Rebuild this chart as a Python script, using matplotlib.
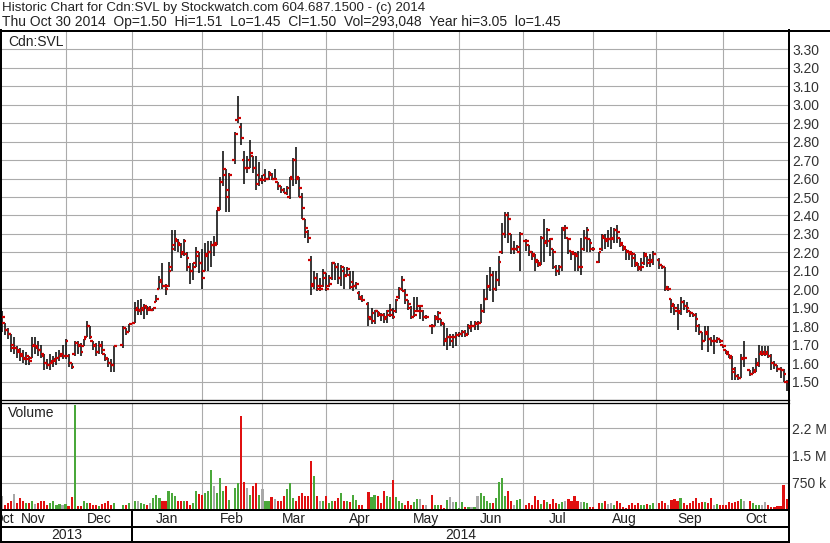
import matplotlib
matplotlib.use("Agg")
import matplotlib.pyplot as plt
from matplotlib.lines import Line2D
from matplotlib.transforms import blended_transform_factory
import numpy as np
import pandas as pd

plt.rcParams['font.family'] = ['Liberation Sans', 'DejaVu Sans']

# %% Data (daily bars, Nov 2013 - Oct 2014), one line per month

opens = [
    1.82,1.82,1.78,1.76,1.70,1.68,1.67,1.64,1.63,1.62,1.63,1.70,1.68,1.67,1.64,1.60,1.59,1.61,1.62,1.63,1.65,
    1.64,1.64,1.60,1.65,1.71,1.70,1.69,1.74,1.80,1.72,1.70,1.66,1.70,1.65,1.62,1.60,1.59,1.70,1.79,1.77,
    1.82,1.90,1.88,1.89,1.90,1.90,1.89,1.93,2.00,2.05,2.02,2.02,2.12,2.24,2.26,2.24,2.20,2.19,2.12,2.10,2.14,2.18,
    2.14,2.10,2.18,2.20,2.24,2.25,2.44,2.58,2.62,2.50,2.70,2.92,2.88,2.70,2.66,2.70,2.72,2.66,2.62,
    2.60,2.62,2.60,2.62,2.60,2.58,2.56,2.54,2.52,2.50,2.60,2.70,2.60,2.50,2.38,2.31,2.16,2.02,2.06,2.02,2.02,
    2.06,2.02,2.06,2.14,2.12,2.06,2.10,2.08,2.08,2.04,2.02,1.98,1.95,1.92,1.84,1.83,1.88,1.86,1.86,1.85,1.86,
    1.86,1.88,1.96,2.00,1.99,1.94,1.90,1.85,1.88,1.88,1.88,1.85,1.80,1.80,1.84,1.84,1.81,1.73,1.74,1.72,1.74,
    1.75,1.76,1.77,1.76,1.79,1.80,1.81,1.82,1.88,1.95,2.02,2.08,2.00,2.05,2.20,2.30,2.40,2.30,2.22,2.22,2.20,
    2.26,2.24,2.20,2.18,2.15,2.14,2.28,2.26,2.26,2.22,2.12,2.10,2.12,2.32,2.28,2.21,2.19,2.18,2.12,2.22,2.28,2.27,
    2.22,2.15,2.22,2.28,2.26,2.27,2.28,2.32,2.28,2.24,2.22,2.20,2.19,2.17,2.13,2.12,2.14,2.18,2.16,2.16,
    2.16,2.13,2.12,2.01,1.95,1.92,1.88,1.88,1.93,1.91,1.88,1.87,1.86,1.80,1.77,1.72,1.76,1.73,1.72,1.72,1.73,
    1.70,1.67,1.65,1.63,1.55,1.53,1.52,1.62,1.56,1.54,1.56,1.60,1.66,1.66,1.66,1.64,1.60,1.59,1.57,1.56,1.50,
]
highs = [
    1.88,1.82,1.79,1.76,1.74,1.69,1.68,1.67,1.66,1.64,1.74,1.74,1.72,1.70,1.65,1.62,1.65,1.64,1.66,1.67,1.70,
    1.73,1.65,1.60,1.72,1.72,1.71,1.73,1.83,1.80,1.72,1.71,1.72,1.72,1.65,1.63,1.62,1.69,1.80,1.79,1.81,
    1.93,1.94,1.95,1.92,1.91,1.91,1.90,1.97,2.07,2.14,2.03,2.15,2.32,2.32,2.27,2.25,2.27,2.20,2.14,2.14,2.23,2.20,
    2.22,2.25,2.26,2.26,2.29,2.43,2.61,2.75,2.65,2.63,2.85,3.05,2.90,2.75,2.72,2.81,2.72,2.72,2.69,
    2.62,2.65,2.64,2.63,2.65,2.58,2.56,2.55,2.56,2.61,2.71,2.77,2.61,2.52,2.38,2.32,2.18,2.10,2.09,2.06,2.11,
    2.09,2.08,2.15,2.14,2.14,2.13,2.12,2.12,2.10,2.10,2.04,1.99,1.97,1.93,1.90,1.89,1.88,1.87,1.87,1.89,1.92,
    1.90,1.95,2.01,2.07,2.00,1.94,1.91,1.96,1.96,1.91,1.89,1.86,1.81,1.86,1.88,1.84,1.82,1.79,1.76,1.76,1.77,
    1.77,1.78,1.78,1.81,1.83,1.83,1.83,1.92,2.00,2.08,2.12,2.10,2.10,2.18,2.36,2.42,2.42,2.30,2.26,2.24,2.31,
    2.27,2.24,2.21,2.19,2.16,2.29,2.38,2.33,2.28,2.22,2.13,2.13,2.34,2.35,2.28,2.21,2.20,2.21,2.28,2.32,2.34,2.27,
    2.23,2.20,2.30,2.30,2.32,2.34,2.33,2.35,2.28,2.24,2.22,2.21,2.20,2.19,2.14,2.17,2.20,2.18,2.19,2.21,
    2.17,2.13,2.12,2.02,1.95,1.92,1.92,1.96,1.94,1.93,1.88,1.87,1.87,1.81,1.77,1.80,1.80,1.74,1.75,1.74,1.73,
    1.70,1.67,1.65,1.64,1.58,1.54,1.65,1.72,1.56,1.58,1.63,1.70,1.69,1.69,1.69,1.65,1.61,1.59,1.58,1.57,1.51,
]
lows = [
    1.77,1.75,1.73,1.66,1.65,1.63,1.61,1.60,1.59,1.59,1.63,1.65,1.64,1.63,1.56,1.57,1.56,1.58,1.59,1.61,1.62,
    1.62,1.58,1.57,1.64,1.65,1.64,1.69,1.74,1.73,1.67,1.64,1.65,1.65,1.61,1.58,1.55,1.55,1.68,1.75,1.77,
    1.82,1.86,1.86,1.84,1.86,1.89,1.88,1.93,2.00,2.00,1.97,2.01,2.10,2.21,2.20,2.17,2.18,2.10,2.03,2.05,2.12,2.09,
    2.00,2.10,2.10,2.12,2.18,2.24,2.43,2.56,2.42,2.42,2.68,2.90,2.78,2.57,2.63,2.66,2.63,2.54,2.56,
    2.57,2.58,2.59,2.59,2.59,2.54,2.52,2.52,2.51,2.49,2.56,2.57,2.50,2.38,2.28,2.25,1.97,2.00,1.99,1.99,2.01,
    1.99,2.01,2.05,2.05,2.03,2.02,2.00,2.07,2.00,1.99,2.00,1.94,1.93,1.80,1.81,1.81,1.85,1.83,1.82,1.82,1.85,
    1.84,1.87,1.95,1.99,1.92,1.89,1.84,1.85,1.88,1.84,1.83,1.84,1.76,1.80,1.82,1.80,1.69,1.67,1.69,1.68,1.69,
    1.74,1.74,1.74,1.75,1.77,1.78,1.78,1.82,1.87,1.94,1.99,1.93,1.99,2.02,2.19,2.28,2.25,2.19,2.19,2.21,2.10,
    2.21,2.18,2.16,2.10,2.12,2.13,2.15,2.23,2.18,2.11,2.07,2.08,2.10,2.27,2.19,2.16,2.10,2.10,2.08,2.21,2.20,2.20,
    2.21,2.14,2.21,2.22,2.23,2.22,2.25,2.25,2.23,2.21,2.16,2.16,2.12,2.12,2.10,2.10,2.13,2.12,2.12,2.13,
    2.11,2.11,1.99,1.99,1.87,1.86,1.78,1.86,1.89,1.87,1.85,1.85,1.77,1.75,1.67,1.72,1.66,1.69,1.65,1.71,1.71,
    1.68,1.65,1.63,1.51,1.51,1.51,1.52,1.58,1.53,1.54,1.55,1.58,1.64,1.64,1.63,1.56,1.57,1.55,1.52,1.50,1.45,
]
closes = [
    1.85,1.78,1.76,1.68,1.68,1.66,1.65,1.62,1.64,1.61,1.69,1.69,1.67,1.65,1.60,1.59,1.60,1.61,1.63,1.64,1.64,
    1.72,1.60,1.58,1.71,1.69,1.66,1.73,1.80,1.74,1.69,1.66,1.69,1.67,1.63,1.60,1.59,1.69,1.79,1.77,1.81,
    1.89,1.89,1.90,1.91,1.89,1.89,1.90,1.95,2.04,2.02,2.00,2.10,2.22,2.27,2.25,2.19,2.26,2.17,2.10,2.12,2.20,2.14,
    2.06,2.19,2.20,2.24,2.24,2.43,2.58,2.65,2.54,2.62,2.84,2.93,2.82,2.66,2.66,2.74,2.66,2.57,2.59,
    2.59,2.60,2.63,2.60,2.60,2.56,2.54,2.52,2.55,2.61,2.70,2.61,2.55,2.44,2.33,2.28,2.03,2.06,2.00,2.00,2.09,
    2.00,2.03,2.14,2.12,2.06,2.12,2.07,2.11,2.01,2.02,2.03,1.96,1.94,1.85,1.87,1.88,1.87,1.86,1.84,1.88,1.89,
    1.85,1.94,2.00,2.05,1.97,1.92,1.85,1.86,1.91,1.91,1.85,1.85,1.80,1.85,1.87,1.82,1.72,1.74,1.74,1.74,1.75,
    1.76,1.77,1.75,1.80,1.80,1.82,1.82,1.88,1.95,2.01,2.08,2.00,2.05,2.15,2.30,2.40,2.38,2.22,2.22,2.23,2.30,
    2.26,2.20,2.19,2.16,2.13,2.28,2.25,2.32,2.27,2.20,2.10,2.12,2.33,2.33,2.27,2.20,2.19,2.12,2.12,2.28,2.32,2.25,
    2.22,2.20,2.29,2.27,2.27,2.27,2.32,2.31,2.25,2.23,2.21,2.20,2.19,2.14,2.11,2.12,2.19,2.14,2.15,2.19,
    2.13,2.12,2.00,2.00,1.91,1.90,1.87,1.93,1.91,1.90,1.87,1.86,1.84,1.77,1.72,1.77,1.73,1.72,1.72,1.73,1.72,
    1.69,1.66,1.64,1.57,1.53,1.52,1.63,1.63,1.54,1.55,1.59,1.65,1.65,1.65,1.64,1.60,1.59,1.57,1.56,1.54,1.50,
]
volumes_k = [
    380,142,190,237,446,190,332,237,190,190,256,161,190,237,256,142,190,256,142,161,142,
    161,114,351,2900,114,114,256,190,190,142,142,114,161,190,256,142,190,142,142,190,
    237,237,190,161,142,190,332,427,332,256,256,522,475,399,237,256,256,237,142,190,522,446,
    427,475,522,1111,665,475,883,522,665,285,598,731,2600,760,598,427,665,731,427,
    570,256,256,351,313,256,237,380,570,731,332,237,380,475,399,399,1350,949,380,256,256,
    380,190,237,256,332,456,256,256,218,427,285,142,142,494,351,427,399,190,522,399,351,
    826,351,256,190,142,256,142,218,313,313,142,142,427,142,142,142,66,285,351,218,218,
    66,218,95,95,95,95,380,475,399,256,190,190,332,760,883,380,522,237,142,285,313,
    142,190,142,380,285,161,285,218,161,313,190,161,218,237,313,256,380,237,218,218,190,95,
    95,190,190,237,161,190,142,256,190,95,66,142,190,142,190,142,142,161,142,190,
    190,256,190,142,285,313,256,332,190,142,190,256,332,190,218,218,190,332,142,161,142,
    142,142,218,190,218,256,313,256,256,190,142,142,142,218,142,95,95,114,114,693,293,
]

holidays = ['2013-12-25', '2013-12-26', '2014-01-01', '2014-02-17', '2014-04-18',
            '2014-05-19', '2014-07-01', '2014-08-04', '2014-09-01', '2014-10-13']

price_ticks = np.round(np.arange(1.50, 3.31, 0.10), 2)
vol_ticks = [750e3, 1.5e6, 2.25e6]
vol_tick_labels = ['750 k', '1.5 M', '2.2 M']

title1 = "Historic Chart for Cdn:SVL by Stockwatch.com 604.687.1500 - (c) 2014"
title2 = ("Thu Oct 30 2014  Op=1.50  Hi=1.51  Lo=1.45  Cl=1.50  "
          "Vol=293,048  Year hi=3.05  lo=1.45")

# %% x positions: one slot per weekday, holidays left empty

slots = pd.bdate_range('2013-11-01', '2014-10-30')
is_trading = ~slots.isin(pd.to_datetime(holidays))
x = np.arange(len(slots))[is_trading]

o = np.array(opens); h = np.array(highs); l = np.array(lows); c = np.array(closes)
v = np.array(volumes_k) * 1000.0
for arr in (o, h, l, c, v):
    assert len(arr) == len(x), (len(arr), len(x))

month_start = [i for i in range(1, len(slots)) if slots[i].month != slots[i - 1].month]
jan_start = [i for i in month_start if slots[i].month == 1][0]
xmin, xmax = -0.3, len(slots) - 0.2

# volume colour from close-to-close change
prev = np.r_[c[0], c[:-1]]
vcol = np.where(c > prev + 1e-9, '#4aa83a', np.where(c < prev - 1e-9, '#e01010', '#a8a8a8'))

# %% Figure

W, H = 830, 543
fig = plt.figure(figsize=(W / 100, H / 100), dpi=100, facecolor='white')

def fx(px):
    return px / W

def fy(py):
    return 1 - py / H

grid_kw = dict(color='#ababab', lw=0.8)

ax_p = fig.add_axes([fx(1), fy(400), fx(789) - fx(1), fy(31) - fy(400)])
ax_v = fig.add_axes([fx(1), fy(510), fx(789) - fx(1), fy(403) - fy(510)])

for ax in (ax_p, ax_v):
    ax.set_facecolor('white')
    for s in ax.spines.values():
        s.set_visible(False)
    ax.set_xlim(xmin, xmax)
    ax.set_xticks(month_start)
    ax.tick_params(axis='x', length=0, labelbottom=False)
    ax.yaxis.tick_right()
    ax.tick_params(axis='y', length=0, pad=2.5, labelsize=10, labelcolor='#333333')
    ax.grid(True, **grid_kw)
    ax.set_axisbelow(True)

# price bars
ax_p.set_ylim(1.40, 3.40)
ax_p.set_yticks(price_ticks)
ax_p.set_yticklabels([f"{t:.2f}" for t in price_ticks])
ax_p.vlines(x, l, h, color='black', lw=1.1, zorder=3)
ax_p.hlines(o, x - 0.9, x, color='#cc0000', lw=1.6, zorder=4)
ax_p.hlines(c, x, x + 0.9, color='#cc0000', lw=1.6, zorder=4)
ax_p.text(7 / 788, 1 - (42 - 31) / 369, "Cdn:SVL", transform=ax_p.transAxes,
          fontsize=10, color='#222222', va='center', ha='left')

# volume bars
ax_v.set_ylim(0, 2.95e6)
ax_v.set_yticks(vol_ticks)
ax_v.set_yticklabels(vol_tick_labels)
ax_v.bar(x, v, width=0.7, color=vcol, zorder=3)
ax_v.text(7 / 788, 1 - (413 - 403) / 107, "Volume", transform=ax_v.transAxes,
          fontsize=10, color='#222222', va='center', ha='left')

# month and year labels under the volume panel
tr = blended_transform_factory(ax_v.transData, fig.transFigure)
bounds = [0] + month_start + [xmax]
for a, b in zip(bounds[:-1], bounds[1:]):
    ax_v.text((a + b) / 2, fy(519), slots[a].strftime('%b'), transform=tr,
              ha='center', va='center', fontsize=10, color='#222222', clip_on=False)
ax_v.text(0.3, fy(519), 'Oct', transform=tr, ha='center', va='center',
          fontsize=10, color='#222222', clip_on=False)
ax_v.text((xmin + jan_start) / 2, fy(535), '2013', transform=tr, ha='center', va='center',
          fontsize=10, color='#222222', clip_on=False)
ax_v.text((jan_start + xmax) / 2, fy(535), '2014', transform=tr, ha='center', va='center',
          fontsize=10, color='#222222', clip_on=False)

# titles
fig.text(fx(2), fy(8), title1, fontsize=9.6, color='#222222', va='center', ha='left')
fig.text(fx(2), fy(22), title2, fontsize=10, color='#222222', va='center', ha='left')

# frame lines
def hline(y, x0, x1, lw=2.0):
    fig.add_artist(Line2D([fx(x0), fx(x1)], [fy(y), fy(y)], color='black', lw=lw * 0.72))

def vline(xp, y0, y1, lw=2.0):
    fig.add_artist(Line2D([fx(xp), fx(xp)], [fy(y0), fy(y1)], color='black', lw=lw * 0.72))

hline(30.5, 0, W)
hline(400, 0, 789, 1.3)
hline(402.5, 0, 789, 1.3)
hline(510, 0, 789)
hline(527, 0, 789)
hline(542, 0, 789)
vline(0.8, 30, H)
vline(789, 30, H)
jan_px = 1 + (jan_start - xmin) / (xmax - xmin) * 788
vline(jan_px, 510, 542)

fig.savefig('out.png', dpi=100, facecolor='white')
